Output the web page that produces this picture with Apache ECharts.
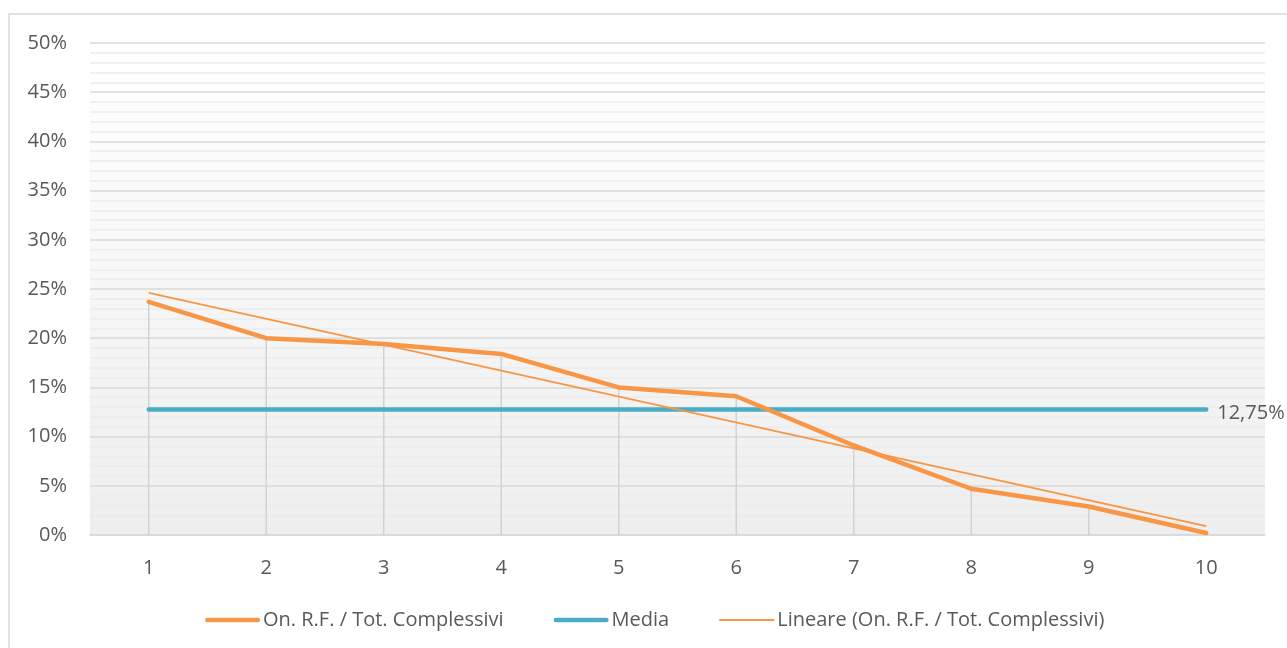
<!DOCTYPE html>
<html>
<head>
<meta charset="utf-8">
<style>
  html, body { margin: 0; padding: 0; background: #ffffff; }
  #chart { width: 1287px; height: 648px; }
</style>
<script src="https://cdn.jsdelivr.net/npm/echarts@6/dist/echarts.min.js"></script>
</head>
<body>
<div id="chart"></div>
<script>
// Categories on the x axis
const categories = ['1', '2', '3', '4', '5', '6', '7', '8', '9', '10'];
// On. R.F. / Tot. Complessivi, in percent
const ratioValues = [23.7, 20.0, 19.4, 18.4, 15.0, 14.1, 9.1, 4.7, 2.9, 0.2];
// Average of the series, in percent
const mediaValue = 12.75;
// Linear trend line: values at the first and last category
const trendStart = 24.6;
const trendEnd = 0.9;
// Y axis range and step
const yMin = 0, yMax = 50, yStep = 5;

const seriesNames = ['On. R.F. / Tot. Complessivi', 'Media', 'Lineare (On. R.F. / Tot. Complessivi)'];
const ORANGE = '#f79646';
const BLUE = '#4bacc6';
const TEXT = '#595959';
const FONT = 'Open Sans';
const FONT_SIZE = 20;

// legend keys: thick and thin horizontal strokes with rounded ends
const THICK_KEY = 'path://M2.25,0H52.75A2.25,2.25,0,0,1,52.75,4.5H2.25A2.25,2.25,0,0,1,2.25,0Z';
const THIN_KEY = 'path://M0,0H55V1.8H0Z';

const mediaData = categories.map(() => mediaValue);
const trendData = categories.map((c, i) =>
  i === 0 ? trendStart : (i === categories.length - 1 ? trendEnd : '-'));

const chart = echarts.init(document.getElementById('chart'), null, { renderer: 'canvas' });

chart.setOption({
  animation: false,
  backgroundColor: '#ffffff',
  textStyle: { fontFamily: FONT },
  graphic: [{
    type: 'rect',
    silent: true,
    z: -10,
    shape: { x: 9, y: 14, width: 1300, height: 700 },
    style: { fill: 'none', stroke: '#d9d9d9', lineWidth: 1.5 }
  }],
  grid: {
    left: 90, right: 22, top: 43, bottom: 113,
    show: true,
    borderWidth: 0,
    backgroundColor: {
      type: 'linear', x: 0, y: 0, x2: 0, y2: 1,
      colorStops: [{ offset: 0, color: '#ffffff' }, { offset: 1, color: '#eeeeee' }]
    }
  },
  legend: {
    top: 605,
    left: 200,
    itemGap: 50,
    itemWidth: 55,
    itemHeight: 14,
    textStyle: { color: TEXT, fontSize: FONT_SIZE, fontFamily: FONT, padding: [0, 0, 0, -2] },
    data: [
      { name: seriesNames[0], icon: THICK_KEY },
      { name: seriesNames[1], icon: THICK_KEY },
      { name: seriesNames[2], icon: THIN_KEY }
    ]
  },
  xAxis: {
    type: 'category',
    data: categories,
    boundaryGap: true,
    axisLine: { show: true, lineStyle: { color: '#d9d9d9', width: 1.5 } },
    axisTick: { show: false },
    axisLabel: { color: TEXT, fontSize: FONT_SIZE, margin: 23, fontFamily: FONT },
    splitLine: { show: false }
  },
  yAxis: {
    type: 'value',
    min: yMin, max: yMax, interval: yStep,
    axisLine: { show: false },
    axisTick: { show: false },
    axisLabel: { color: TEXT, fontSize: FONT_SIZE, margin: 23, fontFamily: FONT, formatter: '{value}%' },
    splitLine: { show: true, lineStyle: { color: '#d9d9d9', width: 1.5 } },
    minorTick: { show: false, splitNumber: 5 },
    minorSplitLine: { show: true, lineStyle: { color: '#ececec', width: 1.5 } }
  },
  series: [
    {
      // drop lines from each point down to the axis
      type: 'custom',
      silent: true,
      z: 1,
      data: ratioValues.map((v, i) => [i, v]),
      renderItem: function (params, api) {
        const top = api.coord([api.value(0), api.value(1)]);
        const bottom = api.coord([api.value(0), 0]);
        return {
          type: 'line',
          shape: { x1: top[0], y1: top[1], x2: bottom[0], y2: bottom[1] },
          style: { stroke: '#d2d2d2', lineWidth: 1.5 }
        };
      }
    },
    {
      name: seriesNames[1],
      type: 'line',
      data: mediaData,
      symbol: 'none',
      z: 3,
      lineStyle: { color: BLUE, width: 4.5, cap: 'round' },
      itemStyle: { color: BLUE },
      endLabel: {
        show: true,
        distance: 11,
        offset: [0, 4],
        color: TEXT,
        fontSize: FONT_SIZE,
        fontFamily: FONT,
        formatter: p => String(p.value).replace('.', ',') + '%'
      }
    },
    {
      name: seriesNames[0],
      type: 'line',
      data: ratioValues,
      symbol: 'none',
      z: 4,
      lineStyle: { color: ORANGE, width: 4.5, cap: 'round', join: 'round' },
      itemStyle: { color: ORANGE }
    },
    {
      name: seriesNames[2],
      type: 'line',
      data: trendData,
      connectNulls: true,
      symbol: 'none',
      z: 5,
      lineStyle: { color: ORANGE, width: 1.8 },
      itemStyle: { color: ORANGE }
    }
  ]
});
</script>
</body>
</html>
